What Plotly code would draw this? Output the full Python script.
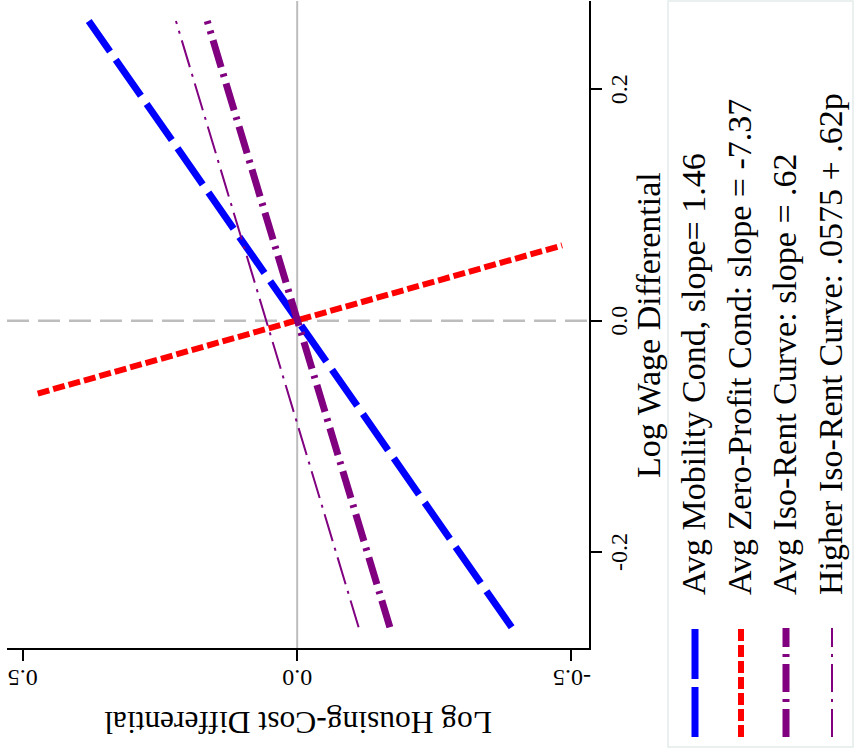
import plotly.graph_objects as go

# ---- data (w = log wage diff, p = log housing-cost diff) ----
series_names = [
    "Avg Mobility Cond, slope= 1.46",
    "Avg Zero-Profit Cond: slope = -7.37",
    "Avg Iso-Rent Curve: slope = .62",
    "Higher Iso-Rent Curve: .0575 + .62p",
]
mobility_w = [-0.265, 0.259]
mobility_p = [-0.391, 0.380]
zero_profit_w = [-0.063, 0.065]
zero_profit_p = [0.473, -0.483]
iso_rent_w = [-0.265, 0.259]
iso_rent_p = [-0.169, 0.164]
higher_iso_w = [-0.265, 0.259]
higher_iso_p = [-0.112, 0.221]

x_tick_vals = [0.5, 0.0, -0.5]
x_tick_text = ["0.5", "0.0", "-0.5"]
y_tick_vals = [-0.2, 0.0, 0.2]
y_tick_text = ["-0.2", "0.0", "0.2"]

# ---- styles ----
FONT = "Liberation Serif"
BLUE, RED, PURPLE = "#0000FF", "#FF0000", "#800080"
styles = [
    dict(color=BLUE, width=7, dash="44px,10px"),
    dict(color=RED, width=6, dash="12px,4px"),
    dict(color=PURPLE, width=7, dash="28px,7px,3px,7px"),
    dict(color=PURPLE, width=2, dash="28px,7px,3px,7px"),
]
legend_dash = ["50px,8px", "12px,4px", "28px,7px,3px,7px", "28px,7px,3px,7px"]

W, H = 854, 748
L, R, T, B = 7, 589, 1, 648  # plot area in pixels


def px_x(px):
    return (px - L) / (R - L)


def px_y(py):
    return (B - py) / (B - T)


fig = go.Figure()
data = [
    (mobility_p, mobility_w),
    (zero_profit_p, zero_profit_w),
    (iso_rent_p, iso_rent_w),
    (higher_iso_p, higher_iso_w),
]
for name, (p, w), st in zip(series_names, data, styles):
    fig.add_trace(go.Scatter(x=p, y=w, mode="lines", name=name, line=st,
                             showlegend=False, hoverinfo="skip"))

shapes = [
    # reference lines
    dict(type="line", xref="x", yref="paper", x0=0, x1=0, y0=0, y1=1,
         line=dict(color="#bdbdbd", width=2), layer="below"),
    dict(type="line", xref="paper", yref="y", x0=0, x1=1, y0=0, y1=0,
         line=dict(color="#bdbdbd", width=2.5, dash="22px,9px"), layer="below"),
    # legend box
    dict(type="rect", xref="paper", yref="paper",
         x0=px_x(668), x1=px_x(853), y0=px_y(747), y1=px_y(1),
         line=dict(color="#e3ebeb", width=1.5), fillcolor="rgba(0,0,0,0)"),
]

tick_font = dict(family=FONT, size=24, color="black")
title_font = dict(family=FONT, size=34, color="black")

annotations = [
    dict(text="Log Wage Differential", xref="paper", yref="paper",
         x=px_x(648), y=px_y(325), xanchor="center", yanchor="middle",
         textangle=-90, showarrow=False, font=title_font),
    dict(text="Log Housing-Cost Differential", xref="paper", yref="paper",
         x=px_x(298), y=px_y(723), xanchor="center", yanchor="middle",
         textangle=180, showarrow=False, font=dict(family=FONT, size=31.5, color="black")),
]

# tick labels (rotated like the reference)
for v, t in zip(x_tick_vals, x_tick_text):
    annotations.append(dict(text=t, xref="x", yref="paper", x=v, y=px_y(678),
                            xanchor="center", yanchor="middle", textangle=180,
                            showarrow=False, font=tick_font))
for v, t in zip(y_tick_vals, y_tick_text):
    annotations.append(dict(text=t, xref="paper", yref="y", x=px_x(619), y=v,
                            xanchor="center", yanchor="middle", textangle=-90,
                            showarrow=False, font=tick_font))

legend_x = [695, 741, 786, 832]
for name, st, dsh, lx in zip(series_names, styles, legend_dash, legend_x):
    shapes.append(dict(type="line", xref="paper", yref="paper",
                       x0=px_x(lx), x1=px_x(lx), y0=px_y(737), y1=px_y(628),
                       line=dict(color=st["color"], width=st["width"], dash=dsh)))
    annotations.append(dict(text=name, xref="paper", yref="paper",
                            x=px_x(lx - 2), y=px_y(597), xanchor="center", yanchor="bottom",
                            textangle=-90, showarrow=False, font=title_font))

fig.update_layout(
    width=W, height=H,
    margin=dict(l=L, r=W - R, t=T, b=H - B),
    paper_bgcolor="white", plot_bgcolor="white",
    font=dict(family=FONT, color="black"),
    shapes=shapes, annotations=annotations,
    showlegend=False,
)
fig.update_xaxes(
    range=[0.529, -0.532], showgrid=False, zeroline=False,
    showline=True, linecolor="black", linewidth=1.5,
    ticks="outside", ticklen=11, tickwidth=1.5, tickcolor="black",
    tickvals=x_tick_vals, showticklabels=False,
)
fig.update_yaxes(
    range=[-0.2829, 0.2763], side="right", showgrid=False, zeroline=False,
    showline=True, linecolor="black", linewidth=1.5,
    ticks="outside", ticklen=11, tickwidth=1.5, tickcolor="black",
    tickvals=y_tick_vals, showticklabels=False,
)

fig.write_html(
    "out.html",
    config={"displayModeBar": False},
    post_script="document.body.style.margin='0';document.body.style.overflow='hidden';",
)
